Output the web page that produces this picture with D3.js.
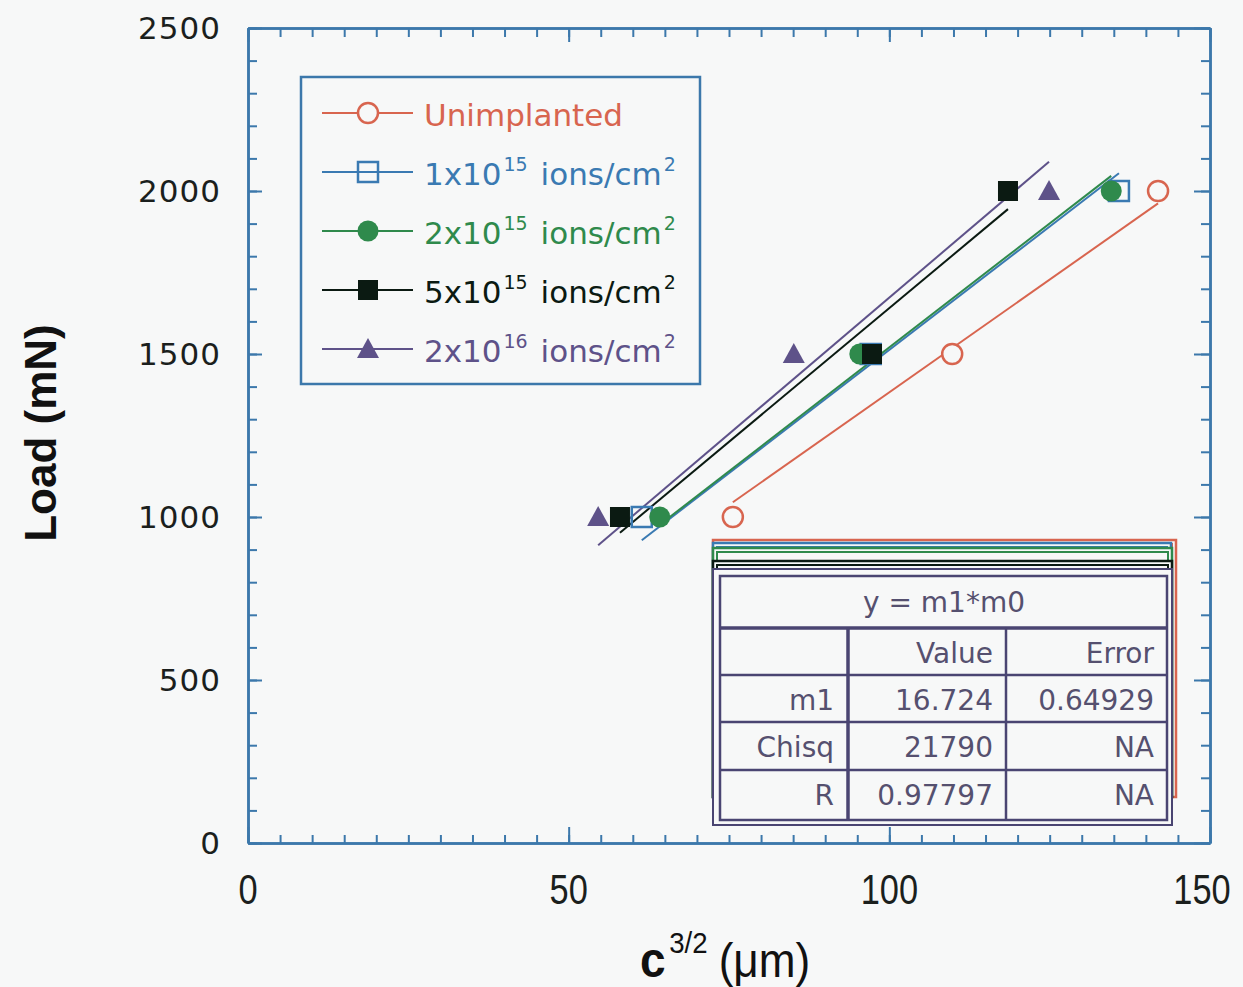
<!DOCTYPE html>
<html>
<head>
<meta charset="utf-8">
<script src="https://cdn.jsdelivr.net/npm/d3@7"></script>
<style>
body { margin: 0; background: #f7f8f8; }
svg { display: block; }
</style>
</head>
<body>
<div id="chart"></div>
<script>
// series data (x = c^3/2 in um, y = load in mN)
var seriesNames = ["Unimplanted", "1x10|15| ions/cm|2|", "2x10|15| ions/cm|2|", "5x10|15| ions/cm|2|", "2x10|16| ions/cm|2|"];
var loads = [1000, 1500, 2000];
var unimplantedX = [75.6, 109.8, 141.9];
var dose1e15X = [61.4, 97.1, 135.8];
var dose2e15X = [64.2, 95.4, 134.6];
var dose5e15X = [58.0, 97.3, 118.5];
var dose2e16X = [54.6, 85.1, 124.9];
var xTicks = [0, 50, 100, 150];
var yTicks = [0, 500, 1000, 1500, 2000, 2500];
var fitTitle = "y = m1*m0";
var fitHeader = ["", "Value", "Error"];
var fitRows = [["m1", "16.724", "0.64929"], ["Chisq", "21790", "NA"], ["R", "0.97797", "NA"]];

var colors = ["#d8654f", "#3a7ab2", "#2f8a4c", "#0b1a12", "#5e5289"];
var symbols = ["circle", "square", "dot", "block", "triangle"];
var axisColor = "#3c78ab";
var bg = "#f7f8f8";

var allX = [unimplantedX, dose1e15X, dose2e15X, dose5e15X, dose2e16X];
var series = allX.map(function(xs, i) {
	return {
		name: seriesNames[i],
		color: colors[i],
		symbol: symbols[i],
		points: xs.map(function(v, j) { return {x: v, y: loads[j]}; })
	};
});

var W = 1243, H = 987;
var svg = d3.select("#chart").append("svg").attr("width", W).attr("height", H);
svg.append("rect").attr("width", W).attr("height", H).attr("fill", bg);

var x = d3.scaleLinear().domain([0, 150]).range([248, 1210]);
var y = d3.scaleLinear().domain([0, 2500]).range([843, 28]);

// axes: minor + major ticks, pointing inward, on all four sides
var xMinor = d3.range(0, 151, 5), yMinor = d3.range(0, 2501, 100);
var drawAxis = function(axisFn, scale, vals, size, tr) {
	var g = svg.append("g").attr("transform", tr)
		.call(axisFn(scale).tickValues(vals).tickSize(-size).tickSizeOuter(0).tickFormat(""));
	g.select(".domain").attr("stroke", axisColor).attr("stroke-width", 2.5);
	g.selectAll(".tick line").attr("stroke", axisColor).attr("stroke-width", 2);
	return g;
};
drawAxis(d3.axisBottom, x, xMinor, 8, "translate(0,843)");
drawAxis(d3.axisBottom, x, xTicks, 16, "translate(0,843)");
drawAxis(d3.axisTop, x, xMinor, 9, "translate(0,28)");
drawAxis(d3.axisTop, x, xTicks, 14, "translate(0,28)");
drawAxis(d3.axisLeft, y, yMinor, 9, "translate(248,0)");
drawAxis(d3.axisLeft, y, yTicks, 14, "translate(248,0)");
drawAxis(d3.axisRight, y, yMinor, 9, "translate(1210,0)");
drawAxis(d3.axisRight, y, yTicks, 16, "translate(1210,0)");

// tick labels
svg.append("g").selectAll("text").data(yTicks).enter().append("text")
	.attr("x", 221).attr("y", function(d) { return y(d); }).attr("dy", "0.36em")
	.attr("text-anchor", "end").attr("font-family", "DejaVu Sans").attr("font-size", 31)
	.attr("letter-spacing", 1).attr("fill", "#1b1f1d").text(function(d) { return d; });
svg.append("g").selectAll("text").data(xTicks).enter().append("text")
	.attr("transform", function(d) { return "translate(" + (x(d) - (d == 150 ? 8 : 0)) + ",904) scale(0.8,1)"; })
	.attr("text-anchor", "middle").attr("font-family", "Liberation Sans")
	.attr("font-size", 43).attr("fill", "#1b1f1d").text(function(d) { return d; });

// axis titles
svg.append("text").attr("transform", "translate(56,433) rotate(-90)")
	.attr("text-anchor", "middle").attr("font-family", "Liberation Sans").attr("font-weight", "bold")
	.attr("font-size", 44).attr("fill", "#111").text("Load (mN)");
var xt = svg.append("text").attr("transform", "translate(640,977) scale(0.92,1)")
	.attr("font-family", "Liberation Sans").attr("fill", "#111");
xt.append("tspan").attr("font-size", 50).attr("font-weight", "bold").text("c");
xt.append("tspan").attr("font-size", 30).attr("dy", -24).attr("dx", 4).text("3/2");
xt.append("tspan").attr("font-size", 48).attr("dy", 24).attr("dx", 12).text("(\u03bcm)");

// fit lines through origin: m = sum(xy)/sum(x^2)
series.forEach(function(s) {
	var m = d3.sum(s.points, function(p) { return p.x * p.y; }) / d3.sum(s.points, function(p) { return p.x * p.x; });
	var ex = d3.extent(s.points, function(p) { return p.x; });
	svg.append("line")
		.attr("x1", x(ex[0])).attr("y1", y(m * ex[0]))
		.attr("x2", x(ex[1])).attr("y2", y(m * ex[1]))
		.attr("stroke", s.color).attr("stroke-width", 2);
});

var drawMarker = function(g, sym, color, cx, cy) {
	if (sym == "circle") {
		g.append("circle").attr("cx", cx).attr("cy", cy).attr("r", 10)
			.attr("fill", bg).attr("stroke", color).attr("stroke-width", 2.5);
	} else if (sym == "square") {
		g.append("rect").attr("x", cx - 10).attr("y", cy - 10).attr("width", 20).attr("height", 20)
			.attr("fill", "none").attr("stroke", color).attr("stroke-width", 2.5);
	} else if (sym == "dot") {
		g.append("circle").attr("cx", cx).attr("cy", cy).attr("r", 10.5).attr("fill", color);
	} else if (sym == "block") {
		g.append("rect").attr("x", cx - 10).attr("y", cy - 10).attr("width", 20).attr("height", 20).attr("fill", color);
	} else {
		g.append("path").attr("d", "M" + cx + "," + (cy - 11) + "L" + (cx + 11) + "," + (cy + 9) + "L" + (cx - 11) + "," + (cy + 9) + "Z")
			.attr("fill", color);
	}
};

series.forEach(function(s) {
	var g = svg.append("g");
	s.points.forEach(function(p) { drawMarker(g, s.symbol, s.color, x(p.x), y(p.y)); });
});

// legend
var lg = svg.append("g");
lg.append("rect").attr("x", 301).attr("y", 77).attr("width", 399).attr("height", 307)
	.attr("fill", bg).attr("stroke", axisColor).attr("stroke-width", 2.5);
series.forEach(function(s, i) {
	var cy = 113 + i * 59;
	lg.append("line").attr("x1", 322).attr("x2", 413).attr("y1", cy).attr("y2", cy)
		.attr("stroke", s.color).attr("stroke-width", 2);
	drawMarker(lg, s.symbol, s.color, 368, cy);
	var t = lg.append("text").attr("x", 424).attr("y", cy + 13)
		.attr("font-family", "DejaVu Sans").attr("font-size", 31).attr("fill", s.color);
	s.name.split("|").forEach(function(part, k) {
		if (!part) return;
		var ts = t.append("tspan").text(part);
		if (k % 2 == 1) ts.attr("font-size", 19).attr("dy", -14).attr("dx", 2);
		else if (k > 0) ts.attr("dy", 14).attr("dx", k == 2 ? 3 : 0);
	});
});

// stacked fit result boxes (one per series), last one on top
var boxTops = [540, 543, 548, 561];
var boxRights = [1176, 1171, 1172, 1172];
var tg = svg.append("g");
boxTops.forEach(function(top, i) {
	tg.append("rect").attr("x", 713).attr("y", top).attr("width", boxRights[i] - 713).attr("height", 797 - top)
		.attr("fill", bg).attr("stroke", colors[i]).attr("stroke-width", 2.5);
	tg.append("rect").attr("x", 717).attr("y", top + 4).attr("width", boxRights[i] - 721).attr("height", 789 - top)
		.attr("fill", "none").attr("stroke", colors[i]).attr("stroke-width", 2);
});
var tc = "#4a4572", tt = "#55506f";
tg.append("rect").attr("x", 713).attr("y", 569).attr("width", 459).attr("height", 256)
	.attr("fill", bg).attr("stroke", tc).attr("stroke-width", 2);
tg.append("rect").attr("x", 720).attr("y", 576).attr("width", 447).attr("height", 244)
	.attr("fill", "none").attr("stroke", tc).attr("stroke-width", 2.5);
var rowY = [628, 675, 722, 770, 820];
tg.append("line").attr("x1", 720).attr("x2", 1167).attr("y1", 628).attr("y2", 628).attr("stroke", tc).attr("stroke-width", 3.5);
rowY.slice(1, 4).forEach(function(ry) {
	tg.append("line").attr("x1", 720).attr("x2", 1167).attr("y1", ry).attr("y2", ry).attr("stroke", tc).attr("stroke-width", 2.5);
});
[848, 1006].forEach(function(cx, i) {
	tg.append("line").attr("x1", cx).attr("x2", cx).attr("y1", 628).attr("y2", 820).attr("stroke", tc).attr("stroke-width", i == 0 ? 3.5 : 2.5);
});
var tfont = function(sel) { return sel.attr("font-family", "DejaVu Sans").attr("font-size", 28).attr("fill", tt); };
tfont(tg.append("text")).attr("x", 944).attr("y", 612).attr("text-anchor", "middle").text(fitTitle);
var colRight = [834, 993, 1154];
[fitHeader].concat(fitRows).forEach(function(row, r) {
	row.forEach(function(cell, c) {
		tfont(tg.append("text")).attr("x", colRight[c]).attr("y", rowY[r] + 35)
			.attr("text-anchor", "end").text(cell);
	});
});
</script>
</body>
</html>
